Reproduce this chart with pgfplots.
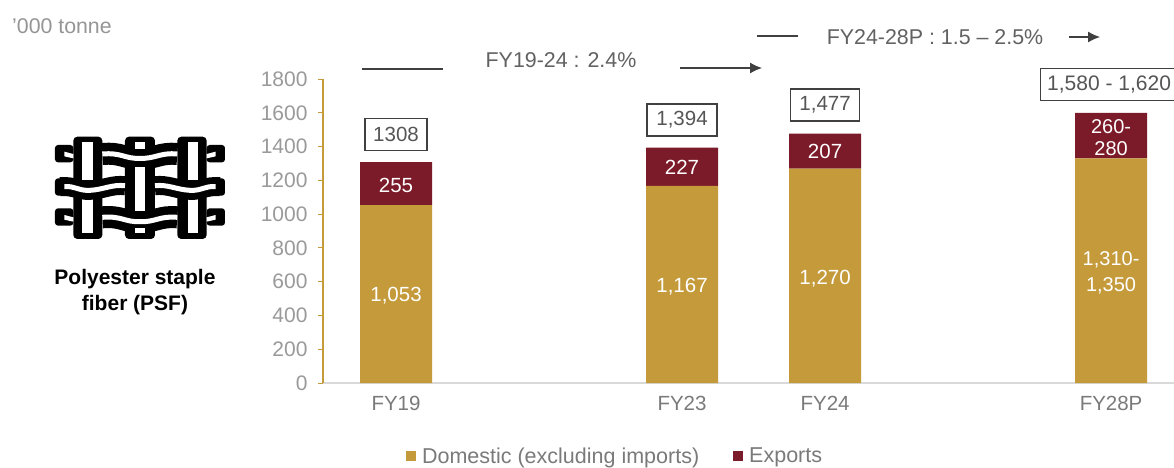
\documentclass[border=0pt]{standalone}
\usepackage{pgfplots}
\pgfplotsset{compat=1.18}
\usepackage{fontspec}
\setmainfont{Liberation Sans}
\usetikzlibrary{arrows.meta}
\definecolor{gold}{HTML}{C49A3A}
\definecolor{maroon}{HTML}{7B1A28}
\definecolor{tickgray}{HTML}{9A9A9A}
\definecolor{txtgray}{HTML}{7A7A7A}
\definecolor{arrowgray}{HTML}{404040}
\newcommand{\fs}[1]{\fontsize{#1}{#1}\selectfont}
\pgfplotstableread{
x dom exp
0 1053 255
2 1167 227
3 1270 207
5 1330 270
}\psfdata
\begin{document}
\begin{tikzpicture}[x=1pt,y=1pt]
\clip (0,0) rectangle (1174,467);
\path[fill=white] (0,0) rectangle (1174,467);
\tikzset{lab/.style={font=\fs{20.5}, text=white, align=center, inner sep=0pt},
 tot/.style={draw=arrowgray, line width=1.1pt, fill=white, font=\fs{20.5}, text=txtgray!70!black, inner sep=0pt, minimum height=32pt}}
\begin{axis}[
  at={(323pt,84pt)}, anchor=south west,
  scale only axis, width=851pt, height=304pt,
  ybar stacked, bar width=72pt,
  xmin=-0.5105, xmax=5.44, ymin=0, ymax=1800,
  clip=false,
  axis y line=left, axis x line=bottom,
  axis line style={-},
  x axis line style={draw=black!15, line width=1.2pt},
  y axis line style={draw=gold, line width=1.4pt},
  ytick={0,200,...,1800},
  xtick={0,2,3,5}, xticklabels={FY19,FY23,FY24,FY28P},
  y tick style={draw=gold, line width=1pt},
  x tick style={draw=none},
  major tick length=5pt,
  tick align=outside,
  yticklabel style={/pgf/number format/1000 sep={}, /pgf/number format/assume math mode=true, font=\fs{21}, text=tickgray, xshift=-7pt},
  xticklabel style={font=\fs{20.5}, text=txtgray, yshift=-5pt},
  legend columns=2,
  legend cell align=left,
  legend style={draw=none, fill=none, font=\fs{21.5}, text=txtgray, at={(0.3432,-0.24)}, anchor=center,
    /tikz/every even column/.append style={column sep=32pt}, inner sep=0pt},
  legend image code/.code={\fill[#1] (0pt,-5pt) rectangle (10pt,5pt); \path (14pt,0pt);},
  after end axis/.code={
    \node[lab] at (axis cs:0,515) {1,053};
    \node[lab] at (axis cs:2,568) {1,167};
    \node[lab] at (axis cs:3,620) {1,270};
    \node[lab, font={\fs{20}\baselineskip=26pt}] at (axis cs:5,655) {1,310-\\1,350};
    \node[lab] at (axis cs:0,1170) {255};
    \node[lab] at (axis cs:2,1275) {227};
    \node[lab] at (axis cs:3,1372) {207};
    \node[lab, font={\fs{20}\baselineskip=22pt}] at (axis cs:5,1455) {260-\\280};
    \node[tot, minimum width=62pt] at (axis cs:0,1474) {1308};
    \node[tot, minimum width=70pt] at (axis cs:2,1557) {1,394};
    \node[tot, minimum width=69pt] at (axis cs:3,1646) {1,477};
    \node[tot, minimum width=142pt, font=\fs{21}] at (axis cs:5,1770) {\hspace*{-4pt}1,580 - 1,620};
  },
]
\addplot[fill=gold, draw=none] table[x=x,y=dom] {\psfdata};
\addplot[fill=maroon, draw=none] table[x=x,y=exp] {\psfdata};
\legend{Domestic (excluding imports),Exports}
\end{axis}
\begin{scope}[shift={(0,467)},x=1pt,y=-1pt]
\node[anchor=west,font=\fs{21.3},text=txtgray!80!white,inner sep=0pt] at (12,26) {'000 tonne};
\draw[arrowgray,line width=1.2pt] (362,69) -- (443,69);
\node[font=\fs{21.4},text=txtgray!80!black,inner sep=0pt] at (561,60) {FY19-24 : 2.4\%};
\draw[arrowgray,line width=1.2pt,-{Latex[length=12pt,width=11pt]}] (680,68) -- (762,68);
\draw[arrowgray,line width=1.2pt] (757,36) -- (798,36);
\node[font=\fs{21.4},text=txtgray!80!black,inner sep=0pt] at (935,37) {FY24-28P : 1.5 – 2.5\%};
\draw[arrowgray,line width=1.2pt,-{Latex[length=12pt,width=11pt]}] (1069,37) -- (1100,37);
\node[font={\fs{21}\bfseries\baselineskip=26pt},align=center,text=black,inner sep=0pt] at (135,292) {Polyester staple\\fiber (PSF)};
\end{scope}
% icon, drawn in a 3x zoomed frame of the reference
\begin{scope}[shift={(45,342)},x=0.3333pt,y=-0.3333pt]
\fill[black,rounded corners=4pt] (85,35) rectangle (172,342);
\fill[black,rounded corners=4pt] (240,35) rectangle (330,342);
\fill[black,rounded corners=4pt] (397,35) rectangle (485,342);
\foreach \dy in {0,190}{
 \fill[black,rounded corners=3pt] (30,60+\dy) rectangle (85,112+\dy);
 \fill[black,rounded corners=3pt] (485,60+\dy) rectangle (540,112+\dy);
 \fill[white] (58,80+\dy) -- (85,87+\dy) -- (85,100+\dy) -- (58,94+\dy) -- cycle;
 \fill[white] (512,80+\dy) -- (485,87+\dy) -- (485,100+\dy) -- (512,94+\dy) -- cycle;
 \draw[black,line width=22pt] (172,87+\dy) .. controls (230,82+\dy) and (240,102+\dy) .. (285,100+\dy) .. controls (330,102+\dy) and (345,82+\dy) .. (397,87+\dy);
}
\foreach \sl/\xa/\xb/\ya/\yb in {a/112/145/52/165,b/112/145/222/325,c/270/300/52/72,d/270/300/125/258,e/270/300/310/325,f/428/458/52/165,g/428/458/222/325}{
 \fill[white] (\xa,\ya) rectangle (\xb,\yb);
}
\foreach \dy in {0,190}{
 \draw[white,line width=5pt] (172,87+\dy) .. controls (230,82+\dy) and (240,102+\dy) .. (285,100+\dy) .. controls (330,102+\dy) and (345,82+\dy) .. (397,87+\dy);
}
\fill[black,rounded corners=3pt] (30,160) rectangle (60,212);
\fill[black,rounded corners=3pt] (510,160) rectangle (540,212);
\draw[black,line width=19pt] (45,185) .. controls (90,182) and (100,198) .. (135,196) .. controls (175,194) and (200,178) .. (240,182);
\draw[black,line width=19pt] (330,182) .. controls (370,178) and (395,194) .. (435,196) .. controls (470,198) and (480,182) .. (525,185);
\draw[white,line width=5pt] (58,185) .. controls (90,182) and (100,198) .. (135,196) .. controls (175,194) and (200,178) .. (240,182);
\draw[white,line width=5pt] (330,182) .. controls (370,178) and (395,194) .. (435,196) .. controls (470,198) and (480,182) .. (512,185);
\end{scope}
\end{tikzpicture}
\end{document}
